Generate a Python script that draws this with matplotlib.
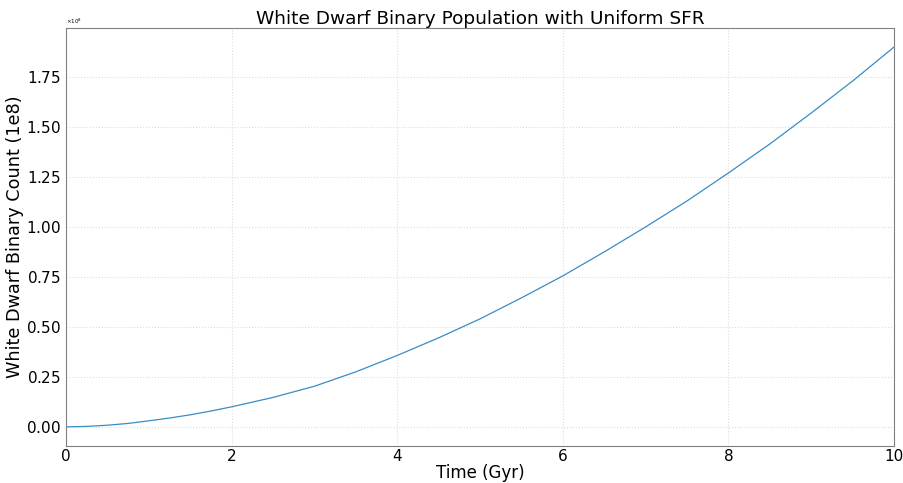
import numpy as np
import matplotlib
matplotlib.use('Agg')
import matplotlib.pyplot as plt

# time in Gyr and binary count (in units of 1e8)
time_gyr = [0.0, 0.25, 0.5, 0.75, 1.0, 1.25, 1.5, 1.75, 2.0, 2.5, 3.0, 3.5, 4.0, 4.5, 5.0,
            5.5, 6.0, 6.5, 7.0, 7.5, 8.0, 8.5, 9.0, 9.5, 10.0]
count_1e8 = [0.0, 0.002, 0.008, 0.017, 0.03, 0.044, 0.06, 0.079, 0.10, 0.147, 0.203, 0.275,
             0.357, 0.445, 0.54, 0.645, 0.755, 0.875, 1.0, 1.13, 1.27, 1.415, 1.57, 1.73, 1.90]

counts = np.array(count_1e8) * 1e8

fig = plt.figure(figsize=(9.04, 4.83), dpi=100)
ax = fig.add_axes([0.073, 0.077, 0.916, 0.865])

ax.plot(time_gyr, counts, color='#3a8cc4', linewidth=0.9)

ax.set_xlim(0, 10)
ax.set_title('White Dwarf Binary Population with Uniform SFR', fontsize=13.3, pad=3)
ax.set_xlabel('Time (Gyr)', fontsize=12, labelpad=0)
ax.set_ylabel('White Dwarf Binary Count (1e8)', fontsize=12.7, labelpad=1)
ax.tick_params(axis='both', labelsize=11, length=0)
ax.tick_params(axis='x', pad=2)
ax.tick_params(axis='y', pad=4)
ax.ticklabel_format(axis='y', style='sci', scilimits=(0, 0), useMathText=True)
ax.yaxis.get_offset_text().set_fontsize(4)
ax.grid(True, color='#dddddd', linestyle=':', linewidth=0.8)

for s in ax.spines.values():
    s.set_color('#808080')

fig.savefig('out.png', dpi=100)
